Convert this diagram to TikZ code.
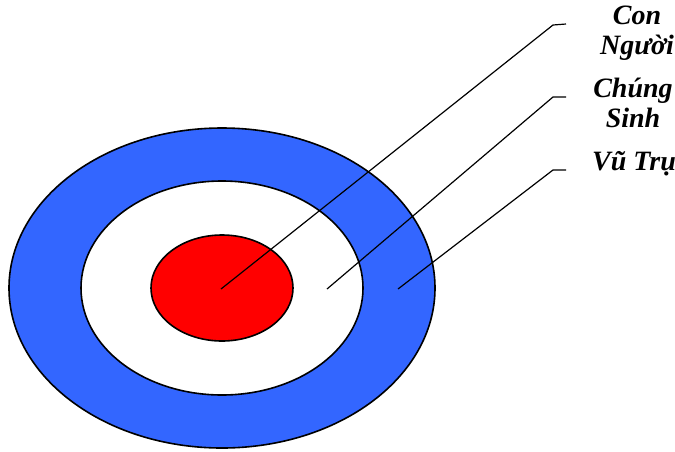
\documentclass[tikz,border=0pt]{standalone}
\usepackage{fontspec}
\setmainfont{Liberation Serif}
\usepackage{xcolor}
\definecolor{ringblue}{HTML}{3366FF}
\definecolor{corered}{HTML}{FF0000}
\tikzset{
  ring/.style={draw=black, line width=1.6pt},
  leader/.style={draw=black, line width=1.2pt},
  lbl/.style={font=\fontsize{28}{30}\selectfont\bfseries\itshape, align=center, inner sep=0pt}
}

\begin{document}
\begin{tikzpicture}[x=1pt,y=-1pt]
\useasboundingbox (0,0) rectangle (675,451);

% Three rings round one centre
\coordinate (c) at (222,288);
\filldraw[ring, fill=ringblue] (c) ellipse [x radius=213, y radius=160];
\filldraw[ring, fill=white] (c) ellipse [x radius=141, y radius=107];
\filldraw[ring, fill=corered] (c) ellipse [x radius=71, y radius=53];

% Labels
\node[lbl] (nguoi) at (637,33) {Con\\Người};
\node[lbl] (sinh) at (633,103) {Chúng\\Sinh};
\node[lbl] (vutru) at (634,164) {Vũ Trụ};

% Leader lines
\coordinate (p1) at (221,289);
\coordinate (p2) at (327,289);
\coordinate (p3) at (398,289);
\coordinate (k1) at (553,25);
\coordinate (k2) at (553,97);
\coordinate (k3) at (553,170);
\draw[leader] (p1) -- (k1) -- ++(13,-1);
\draw[leader] (p2) -- (k2) -- ++(13,0);
\draw[leader] (p3) -- (k3) -- ++(13,0);

\end{tikzpicture}
\end{document}
